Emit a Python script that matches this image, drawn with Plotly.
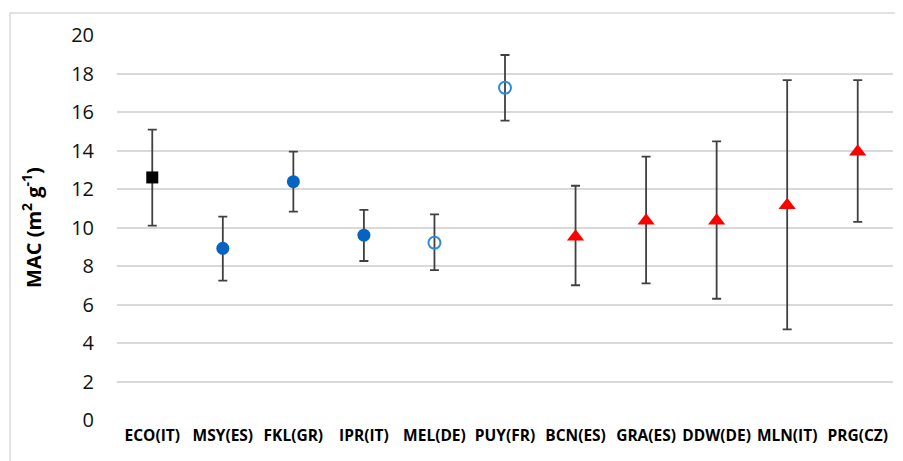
import plotly.graph_objects as go

categories = ["ECO(IT)", "MSY(ES)", "FKL(GR)", "IPR(IT)", "MEL(DE)", "PUY(FR)",
              "BCN(ES)", "GRA(ES)", "DDW(DE)", "MLN(IT)", "PRG(CZ)"]
mac = [12.6, 8.92, 12.38, 9.6, 9.21, 17.26, 9.52, 10.35, 10.35, 11.15, 13.94]
upper = [15.08, 10.56, 13.94, 10.92, 10.68, 18.96, 12.17, 13.68, 14.47, 17.66, 17.66]
lower = [10.1, 7.24, 10.82, 8.26, 7.79, 15.55, 7.0, 7.1, 6.3, 4.71, 10.29]
y_ticks = [0, 2, 4, 6, 8, 10, 12, 14, 16, 18, 20]

groups = [
    ([0], dict(symbol="square", size=12, color="#000000")),
    ([1, 2, 3], dict(symbol="circle", size=13, color="#0563C1")),
    ([4, 5], dict(symbol="circle-open", size=12, color="#2E8BD8", line=dict(width=2, color="#2E8BD8"))),
    ([6, 7, 8, 9, 10], dict(symbol="triangle-up", size=15, color="#FF0000")),
]

fig = go.Figure()
for idx, mk in groups:
    fig.add_trace(go.Scatter(
        x=[categories[i] for i in idx],
        y=[mac[i] for i in idx],
        mode="markers",
        marker=mk,
        error_y=dict(
            type="data", symmetric=False,
            array=[upper[i] - mac[i] for i in idx],
            arrayminus=[mac[i] - lower[i] for i in idx],
            color="#404040", thickness=1.8, width=4.5,
        ),
        showlegend=False,
    ))

# page body has an 8px default margin, so the figure is shifted by 8px
fig.update_layout(
    width=895, height=453,
    margin=dict(l=109, r=10, t=27, b=41, autoexpand=False),
    paper_bgcolor="white", plot_bgcolor="white",
    font=dict(family="Open Sans, sans-serif", color="#000000"),
    xaxis=dict(
        categoryorder="array", categoryarray=categories,
        showgrid=False, showline=False, zeroline=False, automargin=False,
        tickfont=dict(size=15.5, family="Open Sans", weight="bold"),
        ticks="", range=[-0.5, 10.5], ticklabelstandoff=4,
    ),
    yaxis=dict(
        range=[0, 20], tickvals=y_ticks, ticks="", automargin=False,
        showgrid=True, gridcolor="#D9D9D9", gridwidth=1.5,
        zeroline=False, showline=False,
        tickfont=dict(size=20, family="Open Sans", color="#111111"),
        ticklabelstandoff=22,
        title=dict(text="<b>MAC (m<sup>2</sup> g<sup>-1</sup>)</b>",
                   font=dict(size=20, family="Open Sans"), standoff=24),
    ),
    shapes=[dict(type="rect", xref="paper", yref="paper",
                 x0=(2 - 109) / 776, x1=(905 - 109) / 776,
                 y0=-0.3, y1=(412 - 5) / 385,
                 line=dict(color="#D9D9D9", width=1.5), layer="below")],
)

fig.write_html("out.html")
